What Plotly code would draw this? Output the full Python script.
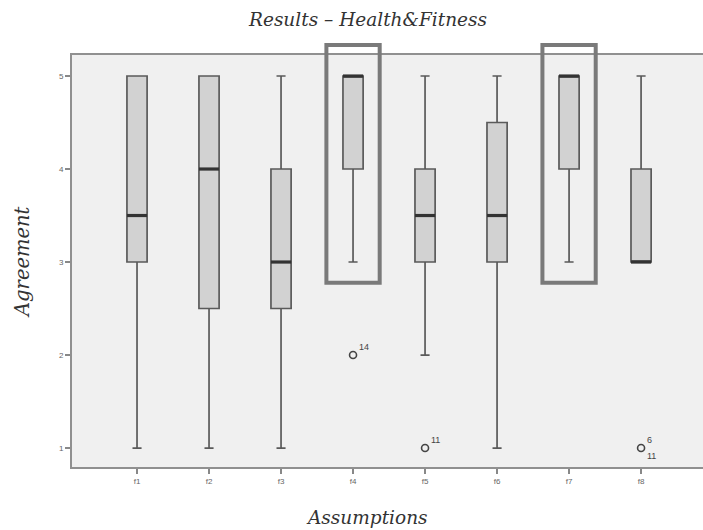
import plotly.graph_objects as go

categories = ["f1", "f2", "f3", "f4", "f5", "f6", "f7", "f8"]
q1 = [3, 2.5, 2.5, 4, 3, 3, 4, 3]
median = [3.5, 4, 3, 5, 3.5, 3.5, 5, 3]
q3 = [5, 5, 4, 5, 4, 4.5, 5, 4]
lower_whisker = [1, 1, 1, 3, 2, 1, 3, 3]
upper_whisker = [5, 5, 5, 5, 5, 5, 5, 5]

outlier_cat = ["f4", "f5", "f8"]
outlier_val = [2, 1, 1]
outlier_labels = [["14"], ["11"], ["6", "11"]]

highlighted = ["f4", "f7"]
y_ticks = [1, 2, 3, 4, 5]

title_text = "Results – Health&Fitness"
x_title = "Assumptions"
y_title = "Agreement"

xpos = {c: i for i, c in enumerate(categories)}
BOX_W = 0.28
serif = "DejaVu Serif"

fig = go.Figure()

for i, c in enumerate(categories):
    fig.add_trace(go.Box(
        x=[xpos[c]], q1=[q1[i]], median=[median[i]], q3=[q3[i]],
        lowerfence=[lower_whisker[i]], upperfence=[upper_whisker[i]],
        width=BOX_W, whiskerwidth=0.45, boxpoints=False,
        fillcolor="#d2d2d2", line=dict(color="#5a5a5a", width=1.7),
        showlegend=False, hoverinfo="skip",
    ))
    fig.add_trace(go.Scatter(
        x=[xpos[c] - BOX_W / 2, xpos[c] + BOX_W / 2], y=[median[i], median[i]],
        mode="lines", line=dict(color="#333333", width=3.2),
        showlegend=False, hoverinfo="skip",
    ))

for c, v, labs in zip(outlier_cat, outlier_val, outlier_labels):
    fig.add_trace(go.Scatter(
        x=[xpos[c]], y=[v], mode="markers",
        marker=dict(symbol="circle-open", size=7, color="#444444", line=dict(width=1.6)),
        showlegend=False, hoverinfo="skip",
    ))
    for k, lab in enumerate(labs):
        fig.add_annotation(
            x=xpos[c], y=v, text=lab, showarrow=False,
            xanchor="left", yanchor="bottom" if k == 0 else "top",
            xshift=4, yshift=1 if k == 0 else -1,
            font=dict(size=9, color="#444444", family="Liberation Sans"),
        )

for c in highlighted:
    fig.add_shape(
        type="rect", xref="x", yref="paper",
        x0=xpos[c] - 0.37, x1=xpos[c] + 0.37, y0=0.447, y1=1.024,
        line=dict(color="#7a7a7a", width=4), fillcolor="rgba(0,0,0,0)",
        layer="above",
    )

fig.add_annotation(text="<i>" + title_text + "</i>", xref="paper", yref="paper",
                   x=(367 - 72) / 631, y=(467 - 20) / 412, showarrow=False,
                   xanchor="center", yanchor="middle",
                   font=dict(family=serif, size=18.5, color="#333333"))
fig.add_annotation(text="<i>" + x_title + "</i>", xref="paper", yref="paper",
                   x=(367 - 72) / 631, y=(467 - 517) / 412, showarrow=False,
                   xanchor="center", yanchor="middle",
                   font=dict(family=serif, size=18.5, color="#333333"))
fig.add_annotation(text="<i>" + y_title + "</i>", xref="paper", yref="paper",
                   x=(22 - 72) / 631, y=(467 - 262) / 412, showarrow=False,
                   xanchor="center", yanchor="middle", textangle=-90,
                   font=dict(family=serif, size=19.5, color="#333333"))

fig.update_layout(
    width=703, height=530,
    margin=dict(l=72, r=0, t=55, b=63, autoexpand=False),
    paper_bgcolor="white", plot_bgcolor="#f0f0f0",
    font=dict(family="Liberation Sans", color="#555555"),
)
fig.update_xaxes(
    range=[-0.903, 7.86], tickmode="array",
    tickvals=[xpos[c] for c in categories], ticktext=categories,
    tickfont=dict(size=8, color="#666666"),
    ticks="outside", ticklen=5, tickcolor="#888888", tickwidth=1.5,
    showline=True, linecolor="#909090", linewidth=2, mirror=True,
    showgrid=False, zeroline=False, automargin=False,
)
fig.update_yaxes(
    range=[0.796, 5.226], tickmode="array", tickvals=y_ticks,
    tickfont=dict(size=8, color="#666666"),
    ticks="outside", ticklen=5, tickcolor="#888888", tickwidth=1.5,
    showline=True, linecolor="#909090", linewidth=2, mirror=False,
    showgrid=False, zeroline=False, automargin=False,
)

fig.write_html("out.html", config={"displayModeBar": False},
               post_script="document.body.style.margin='0';document.body.style.overflow='hidden';")
